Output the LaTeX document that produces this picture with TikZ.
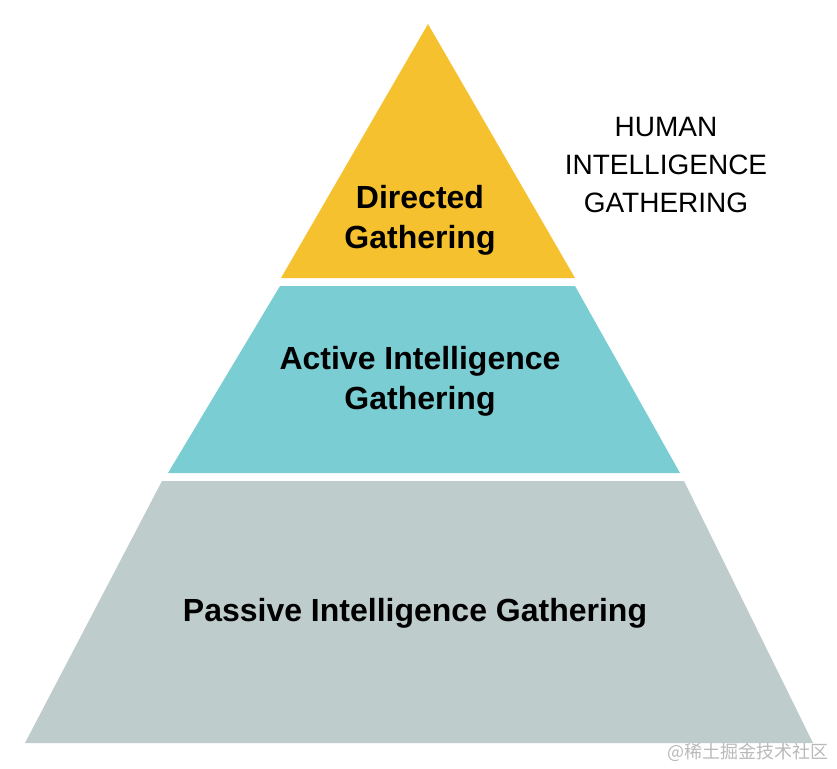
\documentclass[tikz,border=0pt]{standalone}
\usepackage{fontspec}
\setmainfont{Liberation Sans}
\newfontfamily\cjk{Noto Sans CJK SC}

\definecolor{tipyellow}{RGB}{245,193,46}
\definecolor{midcyan}{RGB}{121,205,211}
\definecolor{basegrey}{RGB}{191,204,204}
\definecolor{markgrey}{RGB}{185,185,185}

\tikzset{
    layerlabel/.style={align=center,font=\fontsize{32}{40}\selectfont\bfseries,text=black},
    sidelabel/.style={align=center,font=\fontsize{28}{38}\selectfont,text=black}
}

\begin{document}
\begin{tikzpicture}[x=1pt,y=-1pt,line join=round]
        \useasboundingbox (0,0) rectangle (837,768);

        \coordinate (apex) at (428,24);

        % top layer
        \fill[tipyellow] (apex) -- (575,278) -- (281,278) -- cycle;
        % middle layer
        \fill[midcyan] (280,286) -- (575,286) -- (680,473) -- (168,473) -- cycle;
        % bottom layer
        \fill[basegrey] (162,481) -- (684,481) -- (813,743) -- (25,743) -- cycle;

        \node[layerlabel] (directed) at (420,220) {Directed\\Gathering};
        \node[layerlabel] (active) at (420,381) {Active Intelligence\\Gathering};
        \node[layerlabel] (passive) at (415,613) {Passive Intelligence Gathering};

        \node[sidelabel] (human) at (666,165) {HUMAN\\INTELLIGENCE\\GATHERING};

        \node[text=markgrey,font=\cjk\fontsize{18}{18}\selectfont,anchor=east]
            (mark) at (832,752) {@稀土掘金技术社区};
    \end{tikzpicture}
\end{document}
